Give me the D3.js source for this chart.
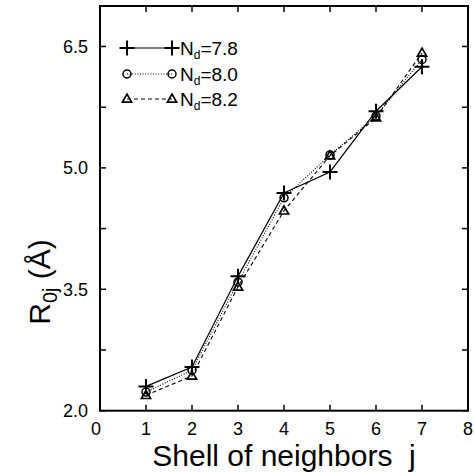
<!DOCTYPE html>
<html>
<head>
<meta charset="utf-8">
<script src="https://cdn.jsdelivr.net/npm/d3@7/dist/d3.min.js"></script>
<style>
  html, body { margin: 0; padding: 0; background: #fff; }
  svg { display: block; }
  text { font-family: "Liberation Sans", Arial, Helvetica, sans-serif; fill: #000; }
</style>
</head>
<body>
<svg id="chart" width="474" height="472"></svg>
<script>
// Shell index j and interatomic distance R_0j (Å) for three d-electron counts
const shells = [1, 2, 3, 4, 5, 6, 7];
const r78 = [2.30, 2.54, 3.66, 4.69, 4.95, 5.70, 6.25];
const r80 = [2.23, 2.50, 3.59, 4.63, 5.16, 5.64, 6.34];
const r82 = [2.19, 2.43, 3.53, 4.47, 5.15, 5.62, 6.42];
const seriesLabels = ["7.8", "8.0", "8.2"];
const xTicks = [0, 1, 2, 3, 4, 5, 6, 7, 8];
const yMajor = [2.0, 3.5, 5.0, 6.5];
const yMinor = [2.75, 4.25, 5.75];

const svg = d3.select("#chart");
const L = 100, R = 468, T = 6, B = 410.7;

const x = d3.scaleLinear().domain([0, 8]).range([L, R]);
const y = d3.scaleLinear().domain([2, 7]).range([B, T]);

const series = [
  { name: seriesLabels[0], values: r78, marker: "plus",     dash: null },
  { name: seriesLabels[1], values: r80, marker: "circle",   dash: "1,1.6" },
  { name: seriesLabels[2], values: r82, marker: "triangle", dash: "4,3" }
];

// Ticks pointing inward on all four sides
const tickLen = 6;
const g = svg.append("g");
const tickAttrs = sel => sel.attr("stroke", "#000").attr("stroke-width", 1.5);
xTicks.forEach(t => {
  g.append("line").attr("x1", x(t)).attr("x2", x(t)).attr("y1", B).attr("y2", B - tickLen).call(tickAttrs);
  g.append("line").attr("x1", x(t)).attr("x2", x(t)).attr("y1", T).attr("y2", T + tickLen).call(tickAttrs);
});
yMajor.concat(yMinor).forEach(t => {
  g.append("line").attr("x1", L).attr("x2", L + tickLen).attr("y1", y(t)).attr("y2", y(t)).call(tickAttrs);
  g.append("line").attr("x1", R).attr("x2", R - tickLen).attr("y1", y(t)).attr("y2", y(t)).call(tickAttrs);
});

// Frame
svg.append("rect").attr("x", L).attr("y", T).attr("width", R - L).attr("height", B - T)
  .attr("fill", "none").attr("stroke", "#000").attr("stroke-width", 2);

// Tick labels
svg.append("g").selectAll("text").data(xTicks).join("text")
  .attr("x", d => x(d) - (d === 0 ? 4 : 0)).attr("y", B + 24)
  .attr("text-anchor", "middle").attr("font-size", 18)
  .text(d => d3.format("d")(d));
svg.append("g").selectAll("text").data(yMajor).join("text")
  .attr("x", L - 12).attr("y", d => y(d)).attr("dy", "0.36em")
  .attr("text-anchor", "end").attr("font-size", 18)
  .text(d => d3.format(".1f")(d));

// Axis titles
svg.append("text").attr("x", 284).attr("y", 466)
  .attr("text-anchor", "middle").attr("font-size", 30)
  .attr("xml:space", "preserve")
  .text("Shell of neighbors  j");

const yt = svg.append("text")
  .attr("transform", "translate(50,282) rotate(-90)")
  .attr("text-anchor", "middle").attr("font-size", 30);
yt.append("tspan").text("R");
yt.append("tspan").attr("font-size", 20).attr("dy", 7).text("0j");
yt.append("tspan").attr("dy", -7).text(" (Å)");

// Marker drawing
function drawMarker(sel, type, cx, cy) {
  if (type === "plus") {
    const s = 7.5;
    sel.append("path").attr("d", `M${cx - s},${cy}H${cx + s}M${cx},${cy - s}V${cy + s}`)
      .attr("stroke", "#000").attr("stroke-width", 2).attr("fill", "none");
  } else if (type === "circle") {
    sel.append("circle").attr("cx", cx).attr("cy", cy).attr("r", 4)
      .attr("stroke", "#000").attr("stroke-width", 1.5).attr("fill", "none");
  } else {
    const h = 8, w = 4.6;
    sel.append("path").attr("d", `M${cx},${cy - h * 0.6}L${cx + w},${cy + h * 0.4}L${cx - w},${cy + h * 0.4}Z`)
      .attr("stroke", "#000").attr("stroke-width", 1.7).attr("fill", "none");
  }
}

const line = d3.line().x(d => x(d[0])).y(d => y(d[1]));
const plot = svg.append("g");
series.forEach(s => {
  const pts = shells.map((j, i) => [j, s.values[i]]);
  plot.append("path").attr("d", line(pts))
    .attr("fill", "none").attr("stroke", "#000")
    .attr("stroke-width", s.dash ? 1.1 : 1.2)
    .attr("stroke-dasharray", s.dash);
  pts.forEach(p => drawMarker(plot, s.marker, x(p[0]), y(p[1])));
});

// Legend
const legY = [48, 74, 99];
const lg = svg.append("g");
series.forEach((s, i) => {
  const yy = legY[i];
  lg.append("line").attr("x1", 127).attr("x2", 172).attr("y1", yy).attr("y2", yy)
    .attr("stroke", "#000").attr("stroke-width", s.dash ? 1.1 : 1.2)
    .attr("stroke-dasharray", s.dash);
  drawMarker(lg, s.marker, 127, yy);
  drawMarker(lg, s.marker, 172, yy);
  const t = lg.append("text").attr("x", 180).attr("y", yy + 7).attr("font-size", 19);
  t.append("tspan").text("N");
  t.append("tspan").attr("font-size", 12).attr("dy", 4).text("d");
  t.append("tspan").attr("dy", -4).text("=" + s.name);
});
</script>
</body>
</html>
